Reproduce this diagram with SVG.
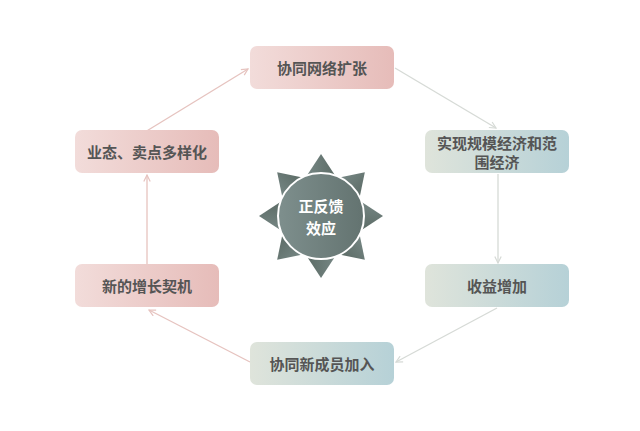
<svg xmlns="http://www.w3.org/2000/svg" width="640" height="431" viewBox="0 0 640 431">
<defs>
<style>
.lbl{font-family:"Noto Sans CJK SC","Noto Sans",sans-serif;font-weight:bold;font-size:15px;fill:#555555;text-anchor:middle;dominant-baseline:central}
.ctr{font-family:"Noto Sans CJK SC","Noto Sans",sans-serif;font-weight:bold;font-size:15px;fill:#ffffff;text-anchor:middle;dominant-baseline:central}
.pk{stroke:#e6c3bf;stroke-width:1.3;fill:none}
.gr{stroke:#d6dad6;stroke-width:1.3;fill:none}
</style>
<linearGradient id="gPink" x1="0" y1="0" x2="1" y2="0">
<stop offset="0" stop-color="#f2dcda"/><stop offset="1" stop-color="#e6bcb9"/>
</linearGradient>
<linearGradient id="gBlue" x1="0" y1="0" x2="1" y2="0">
<stop offset="0" stop-color="#dfe4db"/><stop offset="1" stop-color="#b6d1d7"/>
</linearGradient>
<linearGradient id="gSun" x1="0" y1="0" x2="1" y2="0">
<stop offset="0" stop-color="#7c8d8b"/><stop offset="1" stop-color="#56655f"/>
</linearGradient>
<linearGradient id="gCirc" x1="0" y1="0" x2="1" y2="0">
<stop offset="0" stop-color="#7e8f8d"/><stop offset="1" stop-color="#637370"/>
</linearGradient>
<marker id="aPk" viewBox="0 0 10 10" refX="9" refY="5" markerWidth="8" markerHeight="8" markerUnits="userSpaceOnUse" orient="auto">
<path d="M1,1 L9,5 L1,9" fill="none" stroke="#e6c3bf" stroke-width="1.5"/>
</marker>
<marker id="aGr" viewBox="0 0 10 10" refX="9" refY="5" markerWidth="8" markerHeight="8" markerUnits="userSpaceOnUse" orient="auto">
<path d="M1,1 L9,5 L1,9" fill="none" stroke="#d6dad6" stroke-width="1.5"/>
</marker>
</defs>
<rect width="640" height="431" fill="#ffffff"/>
<g id="connectors">
<line class="pk" x1="145" y1="132" x2="248" y2="69" marker-end="url(#aPk)"/>
<line class="gr" x1="395" y1="68" x2="496" y2="128" marker-end="url(#aGr)"/>
<line class="gr" x1="498" y1="174" x2="498" y2="263" marker-end="url(#aGr)"/>
<line class="gr" x1="497" y1="308" x2="396" y2="362" marker-end="url(#aGr)"/>
<line class="pk" x1="250" y1="362" x2="149" y2="310" marker-end="url(#aPk)"/>
<line class="pk" x1="147" y1="264" x2="147" y2="175" marker-end="url(#aPk)"/>
</g>
<g id="n1">
<rect x="250" y="46" width="144" height="43" rx="7" fill="url(#gPink)"/>
<text class="lbl" x="322" y="67.5">协同网络扩张</text>
</g>
<g id="n2">
<rect x="425" y="130" width="144" height="43" rx="7" fill="url(#gBlue)"/>
<text class="lbl" x="497" y="142">实现规模经济和范</text>
<text class="lbl" x="497" y="161">围经济</text>
</g>
<g id="n3">
<rect x="425" y="264" width="144" height="43" rx="7" fill="url(#gBlue)"/>
<text class="lbl" x="497" y="285.5">收益增加</text>
</g>
<g id="n4">
<rect x="250" y="342" width="144" height="43" rx="7" fill="url(#gBlue)"/>
<text class="lbl" x="322" y="363.5">协同新成员加入</text>
</g>
<g id="n5">
<rect x="75" y="264" width="144" height="43" rx="7" fill="url(#gPink)"/>
<text class="lbl" x="147" y="285.5">新的增长契机</text>
</g>
<g id="n6">
<rect x="75" y="130" width="144" height="43" rx="7" fill="url(#gPink)"/>
<text class="lbl" x="147" y="151.5">业态、卖点多样化</text>
</g>
<g id="center">
<g transform="translate(321,216)" fill="url(#gSun)">
<polygon points="0,-62 -21,-30 21,-30"/>
<polygon points="0,-62 -21,-30 21,-30" transform="rotate(45)"/>
<polygon points="0,-62 -21,-30 21,-30" transform="rotate(90)"/>
<polygon points="0,-62 -21,-30 21,-30" transform="rotate(135)"/>
<polygon points="0,-62 -21,-30 21,-30" transform="rotate(180)"/>
<polygon points="0,-62 -21,-30 21,-30" transform="rotate(225)"/>
<polygon points="0,-62 -21,-30 21,-30" transform="rotate(270)"/>
<polygon points="0,-62 -21,-30 21,-30" transform="rotate(315)"/>
</g>
<circle cx="321" cy="216" r="43" fill="url(#gCirc)" stroke="#ffffff" stroke-width="2"/>
<text class="ctr" x="321" y="205">正反馈</text>
<text class="ctr" x="321" y="227">效应</text>
</g>
</svg>
